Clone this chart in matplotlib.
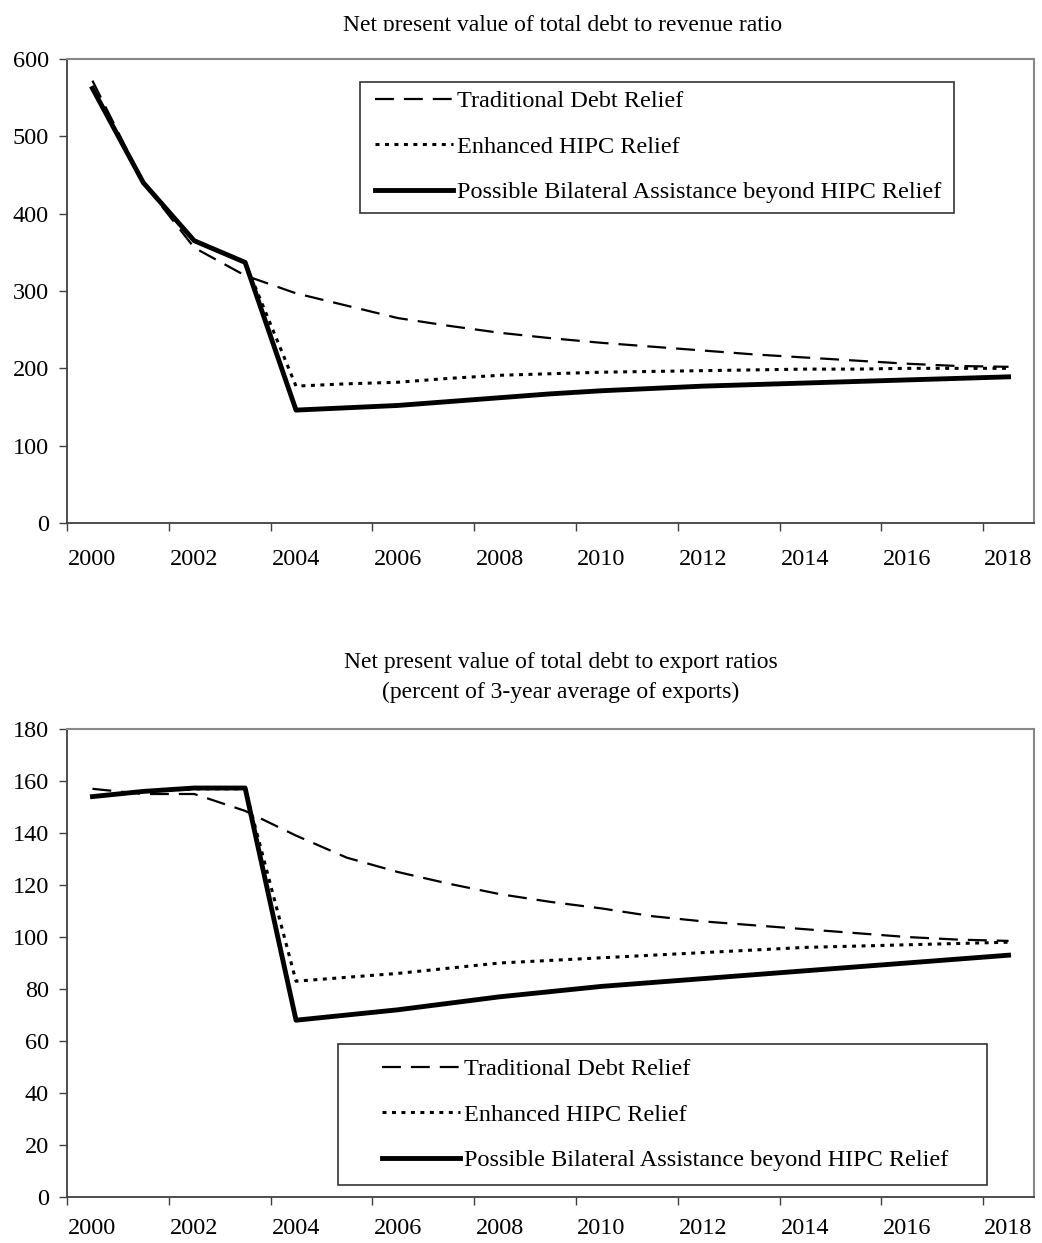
import matplotlib
matplotlib.use('Agg')
import matplotlib.pyplot as plt
from matplotlib.patches import Rectangle

plt.rcParams['font.family'] = ['Liberation Serif', 'DejaVu Serif']

years = list(range(2000, 2019))
series_labels = ["Traditional Debt Relief", "Enhanced HIPC Relief",
                 "Possible Bilateral Assistance beyond HIPC Relief"]

# NPV of debt to revenue
rev_traditional = [572, 440, 356, 320, 297, 281, 265, 255, 246, 239, 233, 228, 223, 218, 214, 210, 206, 203, 202]
rev_enhanced = [562, 440, 365, 337, 177, 180, 182, 187, 191, 193, 195, 196, 197, 198, 199, 199, 200, 200, 200]
rev_bilateral = [562, 440, 365, 337, 146, 149, 152, 157, 162, 167, 171, 174, 177, 179, 181, 183, 185, 187, 189]

# NPV of debt to exports
exp_traditional = [157, 155, 155, 148.5, 139, 130.5, 125, 120.5, 116.5, 113.5, 111, 108, 106, 104.5, 103, 101.5, 100, 99, 98.5]
exp_enhanced = [154, 156, 157, 157, 83, 84.5, 86, 88, 90, 91, 92, 93, 94, 95, 96, 96.5, 97, 97.5, 98]
exp_bilateral = [154, 156, 157.3, 157.3, 68, 70, 72, 74.5, 77, 79, 81, 82.5, 84, 85.5, 87, 88.5, 90, 91.5, 93]

W, H = 1042, 1243
fig = plt.figure(figsize=(W / 100, H / 100), dpi=100)


def fx(x):
    return x / W


def fy(y):
    return 1 - y / H


def add_axes_px(left, top, right, bottom):
    return fig.add_axes([fx(left), fy(bottom), (right - left) / W, (bottom - top) / H])


def draw_panel(ax, traditional, enhanced, bilateral, ymax, ystep, xpad):
    x = list(range(len(years)))
    ax.plot(x, traditional, color='black', lw=1.6, dashes=(8.5, 4.5), label=series_labels[0])
    ax.plot(x, enhanced, color='black', lw=2.2, dashes=(1.3, 1.8), label=series_labels[1])
    ax.plot(x, bilateral, color='black', lw=3.5, label=series_labels[2])
    ax.set_xlim(-0.5, len(years) - 0.5)
    ax.set_ylim(0, ymax)
    ax.set_yticks(range(0, ymax + 1, ystep))
    ax.set_xticks([i - 0.5 for i in range(0, len(years), 2)])
    ax.set_xticklabels([])
    ax.set_xticks(range(0, len(years), 2), minor=True)
    ax.set_xticklabels([str(y) for y in years[::2]], minor=True)
    ax.tick_params(axis='x', which='major', direction='out', length=6, width=1, color='#404040')
    ax.tick_params(axis='x', which='minor', length=0, pad=xpad, labelsize=17.5)
    ax.tick_params(axis='y', direction='out', length=6, width=1, color='#404040', labelsize=17.5, pad=7)
    for side in ['left', 'bottom']:
        ax.spines[side].set_color('#404040')
        ax.spines[side].set_linewidth(1.3)
    for side in ['top', 'right']:
        ax.spines[side].set_color('#888888')
        ax.spines[side].set_linewidth(1.5)


def draw_legend(ax, anchor_px, box_px):
    leg = ax.legend(loc='upper left', bbox_to_anchor=(fx(anchor_px[0]), fy(anchor_px[1])),
                    bbox_transform=fig.transFigure, frameon=False, fontsize=17.5,
                    borderpad=0, borderaxespad=0, handlelength=3.2, handletextpad=0.17,
                    labelspacing=0.97)
    x0, y0, x1, y1 = box_px
    fig.add_artist(Rectangle((fx(x0), fy(y1)), (x1 - x0) / W, (y1 - y0) / H,
                             transform=fig.transFigure, fill=False, edgecolor='#333333', lw=1.2))
    return leg


ax1 = add_axes_px(67, 59, 1034, 523)
draw_panel(ax1, rev_traditional, rev_enhanced, rev_bilateral, 600, 100, 19)
draw_legend(ax1, (375, 90), (360, 82, 954, 213))

ax2 = add_axes_px(67, 729, 1034, 1197)
draw_panel(ax2, exp_traditional, exp_enhanced, exp_bilateral, 180, 20, 15)
draw_legend(ax2, (382, 1058), (338, 1044, 987, 1185))

# titles
fig.text(fx(563), fy(31), "Net present value of total debt to revenue ratio",
         ha='center', va='baseline', fontsize=17)
# the top title is cut off at its baseline in the original
fig.add_artist(Rectangle((0, fy(45)), 1, (45 - 31.5) / H, transform=fig.transFigure,
                         facecolor='white', edgecolor='none', zorder=10))
fig.text(fx(561), fy(668), "Net present value of total debt to export ratios",
         ha='center', va='baseline', fontsize=17)
fig.text(fx(561), fy(698), "(percent of 3-year average of exports)",
         ha='center', va='baseline', fontsize=17)

fig.savefig('out.png', dpi=100)
